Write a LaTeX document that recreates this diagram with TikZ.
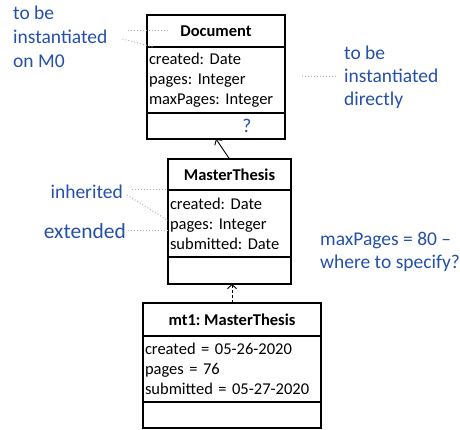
\documentclass[tikz,border=0pt]{standalone}
\usepackage{fontspec}
\setmainfont{Carlito}
\usetikzlibrary{positioning,arrows.meta}
\definecolor{noteblue}{RGB}{36,80,170}
\frenchspacing

\begin{document}
\begin{tikzpicture}[x=1pt,y=-1pt,
    >={Straight Barb[length=4pt,width=9pt]},
    every node/.style={font=\fontsize{16.5}{20}\selectfont},
    head/.style={draw,line width=1.2pt,outer sep=0pt,inner sep=2pt,font=\fontsize{16.5}{20}\selectfont\bfseries},
    attr/.style={draw,line width=1.2pt,outer sep=0pt,inner xsep=2pt,inner ysep=0pt,align=left},
    note/.style={text=noteblue,align=left,inner sep=2pt,font=\fontsize{19.5}{24}\selectfont},
    hint/.style={gray!60,dotted,line width=1pt}]

    \useasboundingbox (0,0) rectangle (460,430);

    % Document
    \node [head,minimum width=138pt,minimum height=32pt] (docTitle) at (216,31) {Document};
    \node [attr,minimum width=138pt,minimum height=66pt,text width=134pt,below=0pt of docTitle] (docAttr) {created: Date\\pages: Integer\\maxPages: Integer};
    \node [attr,minimum width=138pt,minimum height=26pt,below=0pt of docAttr] (docOps) {};
    \node [note] (ask) at (247,126) {?};

    % MasterThesis
    \node [head,minimum width=123pt,minimum height=31pt] (mtTitle) at (229.5,174.5) {MasterThesis};
    \node [attr,minimum width=123pt,minimum height=67pt,text width=119pt,below=0pt of mtTitle] (mtAttr) {created: Date\\pages: Integer\\submitted: Date};
    \node [attr,minimum width=123pt,minimum height=27pt,below=0pt of mtAttr] (mtOps) {};

    % mt1
    \node [head,minimum width=178pt,minimum height=33pt] (objTitle) at (232,319.5) {mt1: MasterThesis};
    \node [attr,minimum width=178pt,minimum height=66pt,text width=174pt,below=0pt of objTitle] (objAttr) {created = 05-26-2020\\pages = 76\\submitted = 05-27-2020};
    \node [attr,minimum width=178pt,minimum height=26pt,below=0pt of objAttr] (objOps) {};

    \draw [->, line width=0.9pt] (mtTitle.north) -- (docOps.south);
    \draw [->, densely dashed, line width=0.9pt] (objTitle.north) -- (objTitle.north |- mtOps.south);

    % notes
    \node [note,anchor=west] (noteM0) at (11,37) {to be\\instantiated\\on M0};
    \node [note,anchor=west,font=\fontsize{19.5}{23}\selectfont] (noteDirect) at (342,77) {to be\\instantiated\\directly};
    \node [note,anchor=east] (inherited) at (125,192) {inherited};
    \node [note,anchor=east,font=\fontsize{21.5}{24}\selectfont] (extended) at (128,231) {extended};
    \node [note,anchor=west,font=\fontsize{19.5}{23}\selectfont] (maxPages) at (318,252) {maxPages = 80 --\\where to specify?};

    \draw [hint] ([xshift=18pt]noteM0.east |- docTitle.west) -- ([xshift=20pt]docTitle.west);
    \draw [hint] ([xshift=13pt,yshift=-2pt]noteM0.east) -- ([xshift=6pt]docAttr.north west);
    \draw [hint] ([xshift=17pt]docAttr.east |- noteDirect.west) -- ([xshift=-4pt]noteDirect.west);
    \draw [hint] ([xshift=7pt,yshift=2pt]inherited.east) -- (mtTitle.south west);
    \draw [hint] ([xshift=2pt,yshift=-3pt]inherited.east) -- ([yshift=3pt]mtAttr.west);
    \draw [hint] (extended.east) -- (extended.east -| mtAttr.west);

\end{tikzpicture}
\end{document}
